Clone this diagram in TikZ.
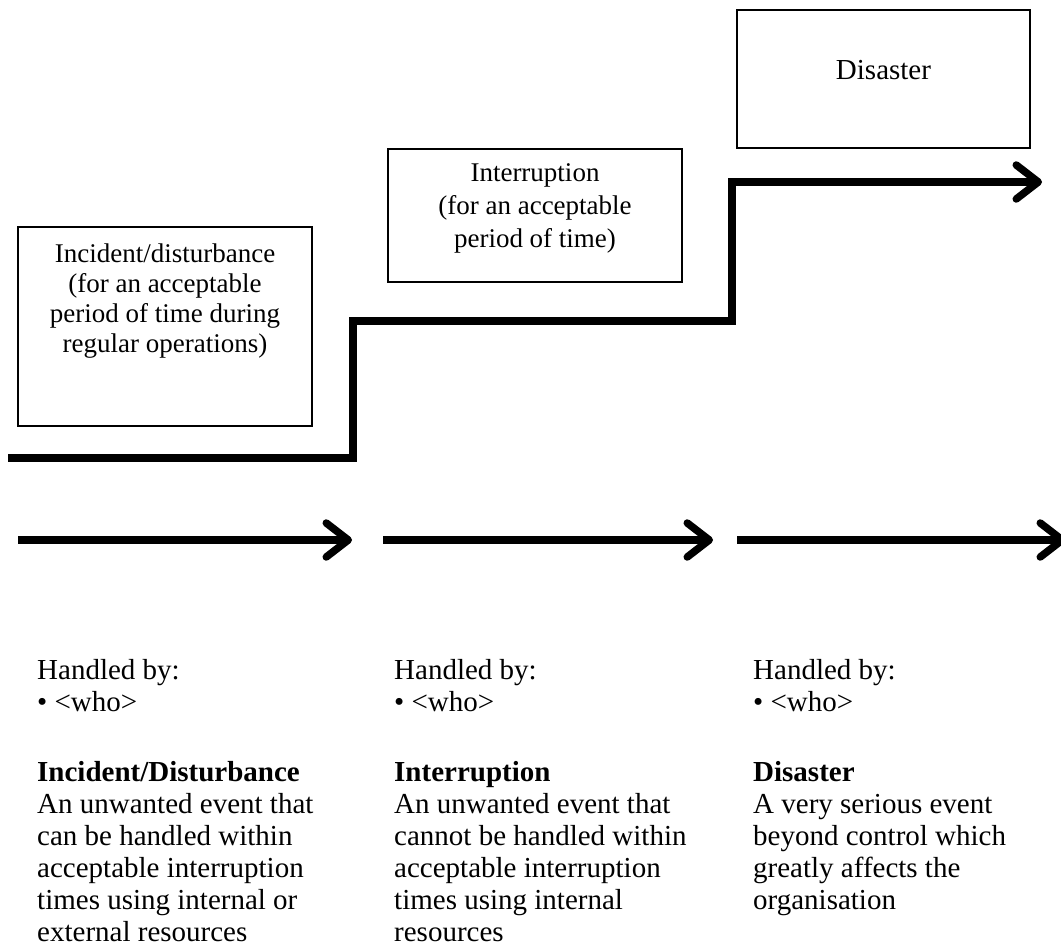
\documentclass[tikz,border=0pt]{standalone}
\usepackage{fontspec}
\setmainfont{Liberation Serif}
\usetikzlibrary{arrows.meta,calc}
\begin{document}
\begin{tikzpicture}[x=1pt,y=-1pt,
  boxstyle/.style={draw,line width=1.6pt,inner sep=0pt,rectangle},
  boxtext/.style={inner sep=0pt,align=center,font=\fontsize{27}{30}\selectfont},
  coltext/.style={inner sep=0pt,align=left,anchor=north west,font=\fontsize{29}{32}\selectfont},
  thickarrow/.style={line width=7.5pt,line join=miter,-{Straight Barb[length=22pt,width=34pt,round]}}
]
\useasboundingbox (0,0) rectangle (1061,950);
% boxes
\node[boxstyle,minimum width=294pt,minimum height=199pt] (b1) at (165,326.5) {};
\node[boxstyle,minimum width=294pt,minimum height=133pt] (b2) at (535,215.5) {};
\node[boxstyle,minimum width=293pt,minimum height=138pt] (b3) at (883.5,79) {};
\node[boxtext,anchor=north] (t1) at (165,243.5) {Incident/disturbance\\(for an acceptable\\period of time during\\regular operations)};
\node[boxtext,anchor=north,font=\fontsize{27}{33}\selectfont] (t2) at (535,163.5) {Interruption\\(for an acceptable\\period of time)};
\node[boxtext,anchor=north,font=\fontsize{29}{32}\selectfont] (t3) at (883.5,60) {Disaster};
% stair line
\coordinate (s0) at (8,458);
\coordinate (s1) at (353,458);
\coordinate (s2) at (353,321);
\coordinate (s3) at (732,321);
\coordinate (s4) at (732,182);
\coordinate (s5) at (1042,182);
\draw[thickarrow] (s0) -- (s1) -- (s2) -- (s3) -- (s4) -- (s5);
% bottom arrows
\coordinate (a1s) at (18,540);
\coordinate (a1e) at (352,540);
\coordinate (a2s) at (383,540);
\coordinate (a2e) at (713,540);
\coordinate (a3s) at (737,540);
\coordinate (a3e) at (1066,540);
\draw[thickarrow] (a1s) -- (a1e);
\draw[thickarrow] (a2s) -- (a2e);
\draw[thickarrow] (a3s) -- (a3e);
% columns
\node[coltext] (c1) at (37,659) {Handled by:\\• <who>\\[38pt]\textbf{Incident/Disturbance}\\An unwanted event that\\can be handled within\\acceptable interruption\\times using internal or\\external resources};
\node[coltext] (c2) at (394,659) {Handled by:\\• <who>\\[38pt]\textbf{Interruption}\\An unwanted event that\\cannot be handled within\\acceptable interruption\\times using internal\\resources};
\node[coltext] (c3) at (753,659) {Handled by:\\• <who>\\[38pt]\textbf{Disaster}\\A very serious event\\beyond control which\\greatly affects the\\organisation};
\end{tikzpicture}
\end{document}
